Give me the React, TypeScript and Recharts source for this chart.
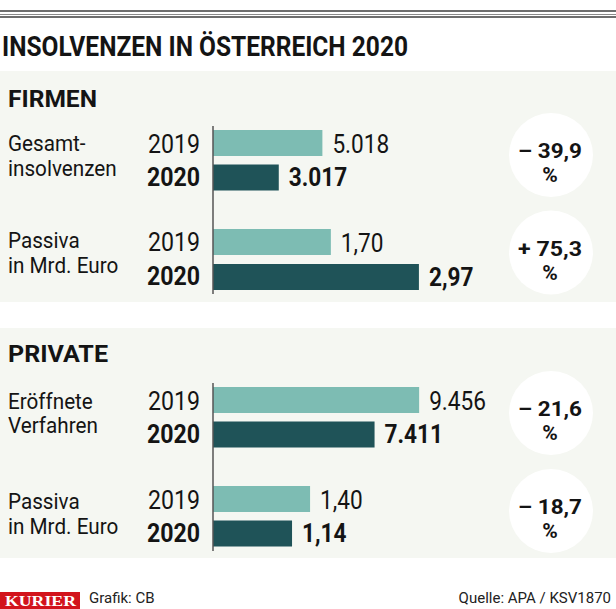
import React from 'react';
import { BarChart, Bar, XAxis, YAxis, Cell, LabelList } from 'recharts';

// ---------- data ----------
const years = ['2019', '2020'];
const firmenInsolvenzen = [5018, 3017];
const firmenPassiva = [1.7, 2.97];
const privatVerfahren = [9456, 7411];
const privatPassiva = [1.4, 1.14];
const changes = [-39.9, 75.3, -21.6, -18.7];
const rowLabels = [
  ['Gesamt-', 'insolvenzen'],
  ['Passiva', 'in Mrd. Euro'],
  ['Eröffnete', 'Verfahren'],
  ['Passiva', 'in Mrd. Euro'],
];
const countDomain: [number, number] = [0, 10000];
const euroDomain: [number, number] = [0, 3];

const BAR_COLORS = ['#7dbcb3', '#1f5358'];
const TEXT = '#141414';
const FONT = 'Roboto, "Liberation Sans", sans-serif';

const fmtCount = (v: number) => String(v).replace(/\B(?=(\d{3})+(?!\d))/g, '.');
const fmtEuro = (v: number) => v.toFixed(2).replace('.', ',');
const fmtChange = (v: number) => (v < 0 ? '– ' : '+ ') + Math.abs(v).toFixed(1).replace('.', ',');

const YearTick = (p: any) => {
  const bold = p.payload.value === '2020';
  return (
    <text
      transform={`translate(70, ${p.y + (bold ? 8.5 : 9.5)}) scale(0.89,1)`}
      textAnchor="end"
      fontSize={26}
      fontFamily={FONT}
      fontWeight={bold ? 700 : 400}
      fill={TEXT}
    >
      {p.payload.value}
    </text>
  );
};

function Group({ values, domain, fmt, top, plotW, pad }: any) {
  const data = years.map((y, i) => ({ year: y, v: values[i] }));
  const right = 150;
  const yw = 83;
  return (
    <div style={{ position: 'absolute', left: 130, top }}>
      <BarChart
        layout="vertical"
        width={yw + plotW + right}
        height={84}
        data={data}
        margin={{ top: 0, right, bottom: 0, left: 0 }}
      >
        <XAxis type="number" domain={domain} hide allowDataOverflow />
        <YAxis
          type="category"
          dataKey="year"
          width={yw}
          axisLine={{ stroke: '#555', strokeWidth: 1.5 }}
          tickLine={false}
          tick={YearTick}
          interval={0}
          padding={pad}
        />
        <Bar dataKey="v" barSize={26} isAnimationActive={false}>
          {data.map((d, i) => (
            <Cell key={d.year} fill={BAR_COLORS[i]} />
          ))}
          <LabelList
            dataKey="v"
            content={(p: any) => {
              const bold = p.index === 1;
              const x = Number(p.x) + Number(p.width) + 10;
              const y = Number(p.y) + Number(p.height) / 2 + (bold ? 8.5 : 9.5);
              return (
                <text
                  transform={`translate(${x}, ${y}) scale(0.87,1)`}
                  fontSize={26}
                  fontFamily={FONT}
                  fontWeight={bold ? 700 : 400}
                  fill={TEXT}
                >
                  {fmt(p.value)}
                </text>
              );
            }}
          />
        </Bar>
      </BarChart>
    </div>
  );
}

const T = ({ x, y, size, w, weight = 400, anchor = 'start', fill = TEXT, family = FONT, children }: any) => (
  <text
    x={x}
    y={y}
    fontSize={size}
    fontWeight={weight}
    textAnchor={anchor}
    fill={fill}
    fontFamily={family}
    textLength={w}
    lengthAdjust="spacingAndGlyphs"
  >
    {children}
  </text>
);

// two-line row label
const RowLabel = ({ y, lines, gap }: any) => (
  <text transform={`translate(8, ${y}) scale(0.94,1)`} fontSize={22} fontFamily={FONT} fill={TEXT}>
    <tspan x={0} y={0}>{lines[0]}</tspan>
    <tspan x={0} y={gap}>{lines[1]}</tspan>
  </text>
);

const circles = [155, 252.5, 413, 511];
const labelY = [151, 248, 409, 509];
const labelGap = [25.5, 25.5, 24.5, 25.5];

export default function App() {
  return (
    <div
      style={{
        position: 'absolute',
        left: 0,
        top: 0,
        width: 616,
        height: 609,
        background: '#fff',
        overflow: 'hidden',
        fontFamily: FONT,
      }}
    >
      {/* top rules */}
      <div style={{ position: 'absolute', left: 0, top: 10, width: 616, height: 1.8, background: '#6e6e6e' }} />
      <div style={{ position: 'absolute', left: 0, top: 13.7, width: 616, height: 1.2, background: '#8a8a8a' }} />
      <div style={{ position: 'absolute', left: 0, top: 16.3, width: 616, height: 1.5, background: '#6e6e6e' }} />

      {/* panels */}
      <div style={{ position: 'absolute', left: 0, top: 71, width: 616, height: 231, background: '#f5f7f2' }} />
      <div style={{ position: 'absolute', left: 0, top: 328, width: 616, height: 230, background: '#f5f7f2' }} />

      <Group values={firmenInsolvenzen} domain={countDomain} fmt={fmtCount} top={126} plotW={218} pad={{ top: 0, bottom: 15 }} />
      <Group values={firmenPassiva} domain={euroDomain} fmt={fmtEuro} top={210} plotW={208} pad={{ top: 14, bottom: 0 }} />
      <Group values={privatVerfahren} domain={countDomain} fmt={fmtCount} top={383} plotW={218} pad={{ top: 0, bottom: 15 }} />
      <Group values={privatPassiva} domain={euroDomain} fmt={fmtEuro} top={467} plotW={208} pad={{ top: 15, bottom: 0 }} />

      <svg width={616} height={609} style={{ position: 'absolute', left: 0, top: 0, pointerEvents: 'none' }}>
        <T x={2} y={56} size={28} w={406} weight={700}>INSOLVENZEN IN ÖSTERREICH 2020</T>

        <T x={8} y={107} size={24} w={89} weight={700}>FIRMEN</T>
        <T x={8} y={362} size={24} w={100} weight={700}>PRIVATE</T>

        {rowLabels.map((lines, i) => (
          <RowLabel key={i} y={labelY[i]} lines={lines} gap={labelGap[i]} />
        ))}

        {circles.map((cy, i) => (
          <g key={i}>
            <circle cx={551} cy={cy} r={42} fill="#ffffff" />
            <text fontSize={21} fontWeight={700} textAnchor="middle" fill={TEXT} fontFamily={FONT}>
              <tspan x={550} y={cy + 3} textLength={64} lengthAdjust="spacingAndGlyphs">
                {fmtChange(changes[i])}
              </tspan>
              <tspan x={550} y={cy + 27}>%</tspan>
            </text>
          </g>
        ))}

        <rect x={0} y={592} width={80} height={17} fill="#d2141c" />
        <T x={5} y={606} size={14} w={71} weight={700} fill="#fff" family={'"Liberation Serif", "DejaVu Serif", serif'}>
          KURIER
        </T>
        <text x={89} y={603} fontSize={15} fill="#222" fontFamily={FONT}>Grafik: CB</text>
        <text x={611} y={603} fontSize={15} fill="#222" fontFamily={FONT} textAnchor="end">Quelle: APA / KSV1870</text>
      </svg>
    </div>
  );
}
